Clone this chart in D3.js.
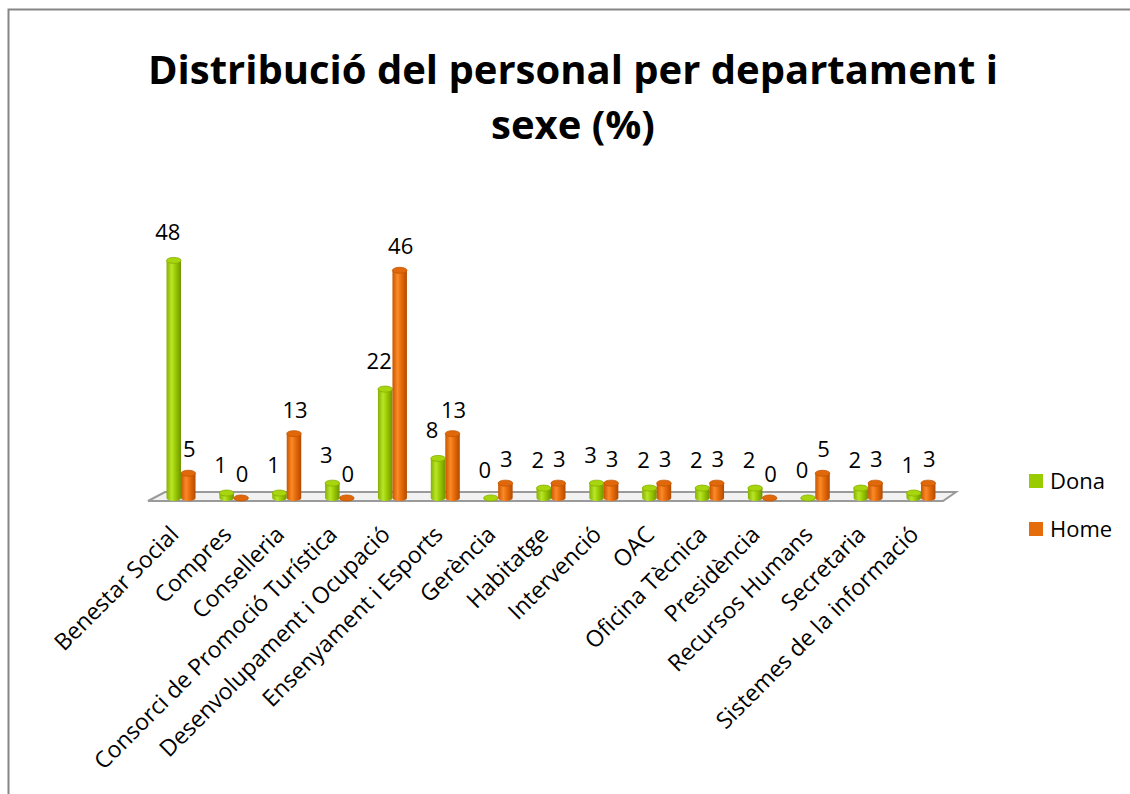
<!DOCTYPE html>
<html>
<head>
<meta charset="utf-8">
<script src="https://cdn.jsdelivr.net/npm/d3@7"></script>
<style>
  body { margin: 0; background: #fff; }
  svg { display: block; }
</style>
</head>
<body>
<div id="chart"></div>
<script>
// chart data
const categories = ["Benestar Social", "Compres", "Conselleria", "Consorci de Promoció Turística",
  "Desenvolupament i Ocupació", "Ensenyament i Esports", "Gerència", "Habitatge", "Intervenció",
  "OAC", "Oficina Tècnica", "Presidència", "Recursos Humans", "Secretaria", "Sistemes de la informació"];
const dona = [48, 1, 1, 3, 22, 8, 0, 2, 3, 2, 2, 2, 0, 2, 1];
const home = [5, 0, 13, 0, 46, 13, 3, 3, 3, 3, 3, 0, 5, 3, 3];
const seriesNames = ["Dona", "Home"];

const width = 1130, height = 794;
const base = 498;
const font = "Open Sans, sans-serif";

const svg = d3.select("#chart")
    .append("svg")
    .attr("width", width)
    .attr("height", height);

// outer frame
svg.append("rect")
    .attr("x", 8.5).attr("y", 9.5)
    .attr("width", 1140).attr("height", 800)
    .attr("fill", "none")
    .attr("stroke", "#868686")
    .attr("stroke-width", 2);

// gradients for the cylinders
const defs = svg.append("defs");
function grad(id, stops) {
    const g = defs.append("linearGradient").attr("id", id)
        .attr("x1", "0%").attr("x2", "100%").attr("y1", "0%").attr("y2", "0%");
    stops.forEach(s => g.append("stop").attr("offset", s[0]).attr("stop-color", s[1]));
}
grad("gDona", [["0%", "#86b000"], ["35%", "#b8e62a"], ["60%", "#9ccc00"], ["100%", "#6e9400"]]);
grad("gHome", [["0%", "#c85600"], ["35%", "#fb8a28"], ["60%", "#e86c0a"], ["100%", "#b34a00"]]);
const topFill = ["#a8d60e", "#e0680a"];
const topStroke = ["#87ad00", "#c25500"];
const fills = ["url(#gDona)", "url(#gHome)"];
const legendFill = ["#99cc00", "#e46c0a"];

// title
["Distribució del personal per departament i", "sexe (%)"].forEach((line, i) => {
    svg.append("text")
        .attr("x", 573).attr("y", 84 + i * 55)
        .attr("text-anchor", "middle")
        .attr("font-family", font)
        .attr("font-weight", "bold")
        .attr("font-size", "40px")
        .text(line);
});

// scales
const x = d3.scaleBand()
    .domain(categories)
    .range([154.6, 947.4])
    .padding(0);

const xs = d3.scaleBand()
    .domain(seriesNames)
    .range([x.bandwidth() / 2 - 14.5, x.bandwidth() / 2 + 14.5])
    .padding(0);

const y = d3.scaleLinear()
    .domain([0, 50])
    .range([base, base - 247.5]);

// floor
svg.append("polygon")
    .attr("points", [[165, 492], [956, 492], [943, 501], [148, 501]].map(p => p.join(",")).join(" "))
    .attr("fill", "#f2f2f2")
    .attr("stroke", "#9a9a9a")
    .attr("stroke-width", 2);

const rows = categories.map((c, i) => ({ cat: c, vals: [dona[i], home[i]] }));

const groups = svg.selectAll("g.cat")
    .data(rows)
    .enter()
    .append("g")
    .attr("class", "cat")
    .attr("transform", d => `translate(${x(d.cat)},0)`);

const bw = xs.bandwidth();
const ry = 3;

seriesNames.forEach((s, k) => {
    // cylinder body
    groups.append("path")
        .attr("d", d => {
            const x0 = xs(s), x1 = xs(s) + bw, yt = y(d.vals[k]);
            return `M${x0},${yt} L${x0},${base} A${bw / 2},${ry} 0 0 0 ${x1},${base} L${x1},${yt} Z`;
        })
        .attr("fill", fills[k]);
    // cylinder top
    groups.append("ellipse")
        .attr("cx", xs(s) + bw / 2)
        .attr("cy", d => y(d.vals[k]))
        .attr("rx", bw / 2)
        .attr("ry", ry)
        .attr("fill", topFill[k])
        .attr("stroke", topStroke[k])
        .attr("stroke-width", 0.8);
    // value labels
    groups.append("text")
        .attr("x", xs(s) + bw / 2 + (k === 0 ? -6 : 1))
        .attr("y", d => y(d.vals[k]) - (k === 0 ? 20 : 16))
        .attr("text-anchor", "middle")
        .attr("font-family", font)
        .attr("font-size", "22px")
        .attr("fill", "#000")
        .text(d => d.vals[k]);
});

// category labels, rotated
svg.append("g")
    .selectAll("text")
    .data(categories)
    .enter()
    .append("text")
    .attr("transform", d => `translate(${x(d) + x.bandwidth() / 2 - 1},${536}) rotate(-45)`)
    .attr("text-anchor", "end")
    .attr("font-family", font)
    .attr("font-size", "23px")
    .attr("fill", "#000")
    .text(d => d);

// legend
const legend = svg.append("g")
    .selectAll("g")
    .data(seriesNames)
    .enter()
    .append("g")
    .attr("transform", (d, i) => `translate(1029,${474 + i * 48})`);
legend.append("rect")
    .attr("width", 14).attr("height", 14)
    .attr("fill", (d, i) => legendFill[i]);
legend.append("text")
    .attr("x", 21).attr("y", 15)
    .attr("font-family", font)
    .attr("font-size", "22px")
    .text(d => d);
</script>
</body>
</html>
